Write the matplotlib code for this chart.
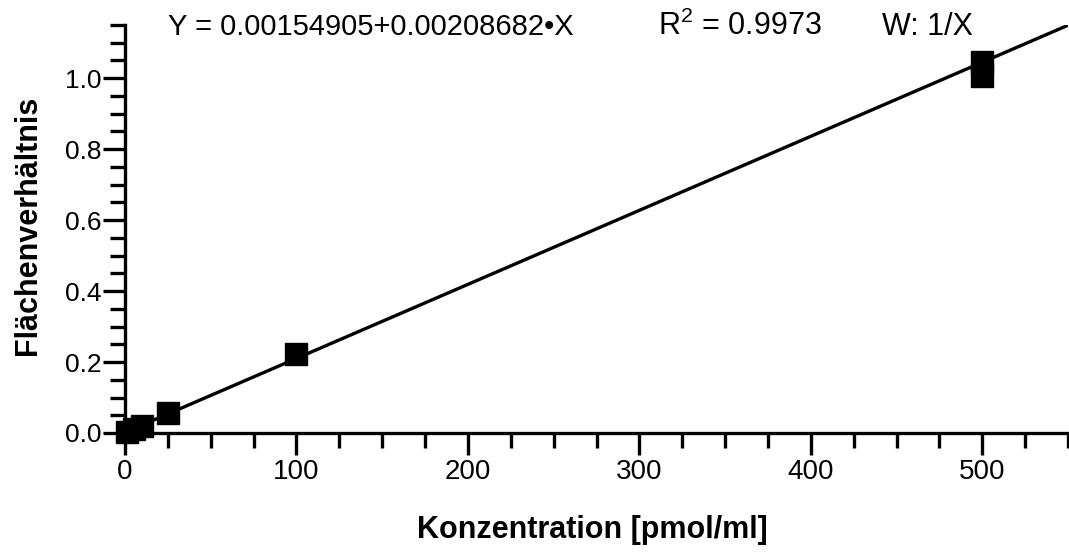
import matplotlib
matplotlib.use("Agg")
import matplotlib.pyplot as plt
import numpy as np
from matplotlib.ticker import MultipleLocator

conc = [1, 5, 10, 25, 100, 500, 500]
ratio = [0.004, 0.011, 0.02, 0.055, 0.222, 1.005, 1.045]
intercept = 0.00154905
slope = 0.00208682
fit_x = [0, 550]
x_ticks = [0, 100, 200, 300, 400, 500]
y_ticks = [0.0, 0.2, 0.4, 0.6, 0.8, 1.0]

plt.rcParams['font.family'] = ['Liberation Sans', 'DejaVu Sans']
plt.rcParams['mathtext.fontset'] = 'custom'
plt.rcParams['mathtext.rm'] = 'Liberation Sans'
plt.rcParams['mathtext.it'] = 'Liberation Sans'

fig = plt.figure(figsize=(10.69, 5.53), dpi=100)
ax = fig.add_axes([125/1069, (553-433)/553, (1068-125)/1069, (433-25)/553])

fx = np.array(fit_x, dtype=float)
ax.plot(fx, intercept + slope*fx, color='black', lw=2.4, zorder=2)
ax.plot(conc, ratio, ls='none', marker='s', ms=16.5, color='black', zorder=3, clip_on=False)

ax.set_xlim(0, 550)
ax.set_ylim(0, 1.15)
ax.set_xticks(x_ticks)
ax.set_yticks(y_ticks)
ax.set_yticklabels([f"{v:.1f}" for v in y_ticks])
ax.xaxis.set_minor_locator(MultipleLocator(25))
ax.yaxis.set_minor_locator(MultipleLocator(0.05))
for s in ['top', 'right']:
    ax.spines[s].set_visible(False)
for s in ['left', 'bottom']:
    ax.spines[s].set_linewidth(2.4)
ax.tick_params(which='major', length=16, width=2.4)
ax.tick_params(which='minor', length=10.5, width=2.4)
ax.tick_params(axis='x', which='major', labelsize=20, pad=3)
ax.tick_params(axis='y', which='major', labelsize=19, pad=1)

ax.set_xlabel('Konzentration [pmol/ml]', fontsize=22, fontweight='bold')
ax.set_ylabel('Flächenverhältnis', fontsize=22, fontweight='bold')
ax.xaxis.set_label_coords(592/1069, (553-530)/553, transform=fig.transFigure)
ax.xaxis.label.set_va('center')
ax.yaxis.set_label_coords(28/1069, (553-225)/553, transform=fig.transFigure)
ax.yaxis.label.set_va('center')

ty = (553-35)/553
fig.text(168/1069, ty, 'Y = 0.00154905+0.00208682•X', fontsize=21, ha='left', va='baseline')
fig.text(658/1069, ty, 'R$^{2}$ = 0.9973', fontsize=22, ha='left', va='baseline')
fig.text(882/1069, ty, 'W: 1/X', fontsize=22, ha='left', va='baseline')

fig.savefig('out.png', dpi=100)
